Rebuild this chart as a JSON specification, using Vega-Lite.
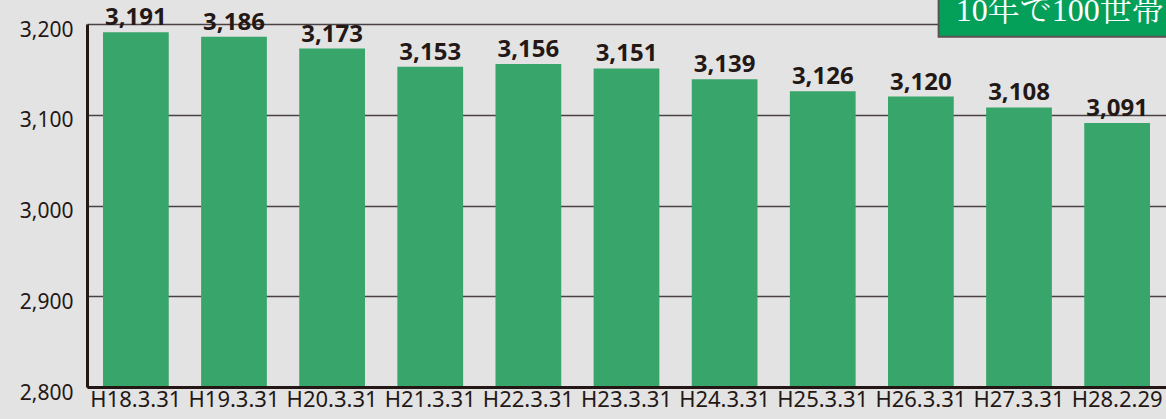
{
  "$schema": "https://vega.github.io/schema/vega-lite/v6.json",
  "width": 1079,
  "height": 363,
  "autosize": {"type": "none"},
  "padding": {"left": 87, "top": 24, "right": 0, "bottom": 32},
  "background": "#e3e3e3",
  "config": {
    "view": {"stroke": null},
    "font": "Noto Sans"
  },
  "data": {
    "values": [
      {"date": "H18.3.31", "households": 3191},
      {"date": "H19.3.31", "households": 3186},
      {"date": "H20.3.31", "households": 3173},
      {"date": "H21.3.31", "households": 3153},
      {"date": "H22.3.31", "households": 3156},
      {"date": "H23.3.31", "households": 3151},
      {"date": "H24.3.31", "households": 3139},
      {"date": "H25.3.31", "households": 3126},
      {"date": "H26.3.31", "households": 3120},
      {"date": "H27.3.31", "households": 3108},
      {"date": "H28.2.29", "households": 3091}
    ]
  },
  "layer": [
    {
      "mark": {"type": "bar", "color": "#38a56a"},
      "encoding": {
        "x": {
          "field": "date",
          "type": "nominal",
          "sort": null,
          "scale": {"paddingInner": 0.33, "paddingOuter": 0.163},
          "axis": {
            "title": null,
            "labelAngle": 0,
            "labelFont": "Noto Sans",
            "labelFontSize": 22,
            "labelColor": "#231815",
            "labelPadding": 2,
            "ticks": false,
            "tickSize": 0,
            "domainColor": "#231815",
            "domainWidth": 3,
            "grid": false,
            "zindex": 1
          }
        },
        "y": {
          "field": "households",
          "type": "quantitative",
          "scale": {"domain": [2800, 3200], "zero": false, "nice": false},
          "axis": {
            "title": null,
            "values": [2800, 2900, 3000, 3100, 3200],
            "format": ",d",
            "labelFont": "Noto Sans",
            "labelFontSize": 21,
            "labelColor": "#231815",
            "labelPadding": 14,
            "labelOffset": 6,
            "ticks": false,
            "tickSize": 0,
            "domainColor": "#231815",
            "domainWidth": 3,
            "grid": true,
            "gridColor": "#4a4242",
            "gridWidth": 1.5
          }
        },
        "y2": {"datum": 2800}
      }
    },
    {
      "mark": {
        "type": "text",
        "baseline": "alphabetic",
        "dy": -7,
        "font": "Noto Sans",
        "fontSize": 24,
        "fontWeight": "bold",
        "color": "#231815"
      },
      "encoding": {
        "x": {"field": "date", "type": "nominal", "sort": null},
        "y": {"field": "households", "type": "quantitative"},
        "text": {"field": "households", "type": "quantitative", "format": ","}
      }
    },
    {
      "data": {"values": [{"note": "10年で100世帯"}]},
      "mark": {"type": "rect", "color": "#04a05a", "stroke": "#5a5252", "strokeWidth": 2},
      "encoding": {
        "x": {"datum": "H26.3.31", "type": "nominal", "bandPosition": 0.77},
        "x2": {"datum": "H28.2.29", "bandPosition": 1.3},
        "y": {"datum": 3240, "type": "quantitative"},
        "y2": {"datum": 3186}
      }
    },
    {
      "data": {"values": [{"note": "10年で100世帯"}]},
      "mark": {
        "type": "text",
        "align": "left",
        "baseline": "alphabetic",
        "font": "Liberation Serif, Noto Serif CJK JP, Noto Sans CJK JP",
        "fontSize": 32,
        "color": "#ffffff"
      },
      "encoding": {
        "x": {"datum": "H26.3.31", "type": "nominal", "bandPosition": 1.03},
        "y": {"datum": 3203, "type": "quantitative"},
        "text": {"field": "note", "type": "nominal"}
      }
    }
  ]
}
